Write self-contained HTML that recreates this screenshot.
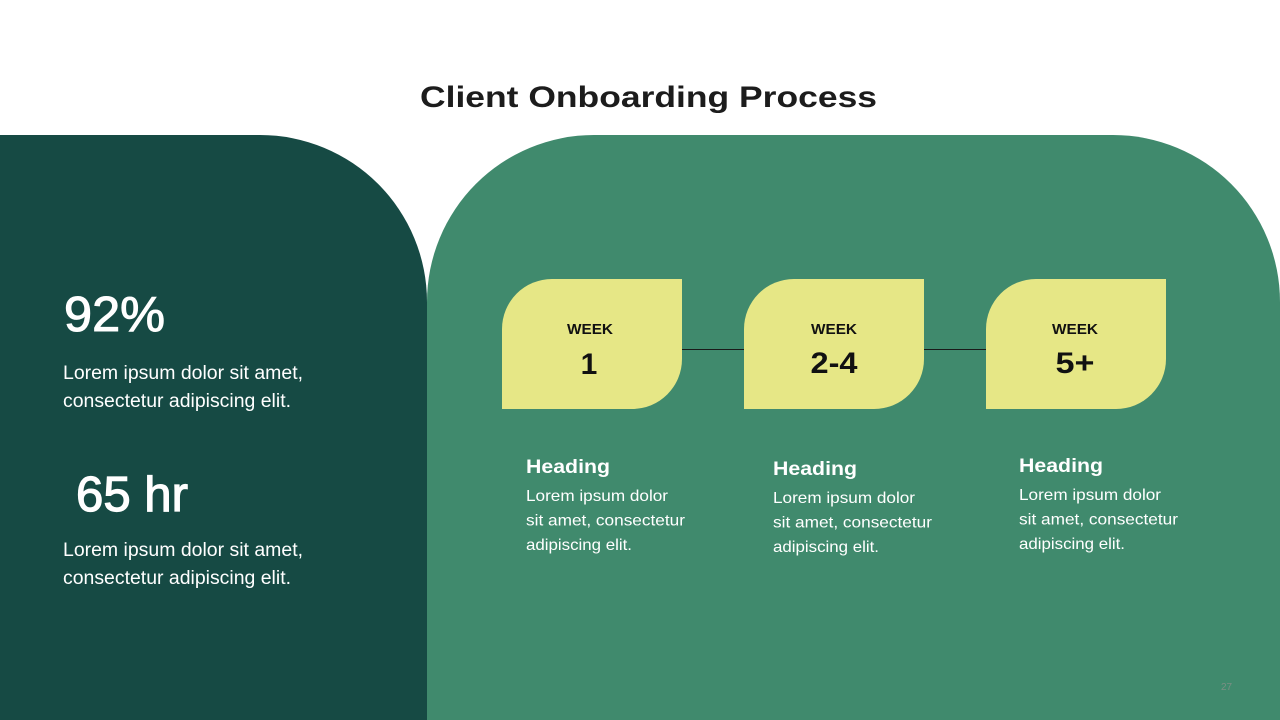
<!DOCTYPE html>
<html>
<head>
<meta charset="utf-8">
<style>
html,body{margin:0;padding:0;background:#fff;}
body{width:1280px;height:720px;overflow:hidden;}
svg{display:block;}
</style>
</head>
<body>
<svg width="1280" height="720" viewBox="0 0 1280 720" xmlns="http://www.w3.org/2000/svg">
  <rect x="0" y="0" width="1280" height="720" fill="#ffffff"/>
  <!-- Title -->
  <text x="420" y="107" font-family="Liberation Sans, sans-serif" font-weight="bold" font-size="30" fill="#1c1c1c" textLength="457" lengthAdjust="spacingAndGlyphs">Client Onboarding Process</text>

  <!-- Dark left panel -->
  <path d="M0 135 H260 A167 167 0 0 1 427 302 V720 H0 Z" fill="#164a44"/>
  <!-- Green right panel -->
  <path d="M427 302 A167 167 0 0 1 594 135 H1113 A167 167 0 0 1 1280 302 V720 H427 Z" fill="#408a6d"/>

  <!-- Left stats -->
  <g font-family="Liberation Sans, sans-serif" fill="#ffffff">
    <text x="64" y="331" font-size="49" stroke="#ffffff" stroke-width="1" textLength="101" lengthAdjust="spacingAndGlyphs">92%</text>
    <text x="63" y="379" font-size="19" textLength="240" lengthAdjust="spacingAndGlyphs">Lorem ipsum dolor sit amet,</text>
    <text x="63" y="407" font-size="19" textLength="228" lengthAdjust="spacingAndGlyphs">consectetur adipiscing elit.</text>
    <text x="76" y="511" font-size="49" stroke="#ffffff" stroke-width="1.2" textLength="112" lengthAdjust="spacingAndGlyphs">65 hr</text>
    <text x="63" y="556" font-size="19" textLength="240" lengthAdjust="spacingAndGlyphs">Lorem ipsum dolor sit amet,</text>
    <text x="63" y="584" font-size="19" textLength="228" lengthAdjust="spacingAndGlyphs">consectetur adipiscing elit.</text>
  </g>

  <!-- Connectors -->
  <line x1="682" y1="349.5" x2="744" y2="349.5" stroke="#1a1a1a" stroke-width="1"/>
  <line x1="924" y1="349.5" x2="986" y2="349.5" stroke="#1a1a1a" stroke-width="1"/>

  <!-- Yellow boxes -->
  <path d="M502 329 A50 50 0 0 1 552 279 H682 V359 A50 50 0 0 1 632 409 H502 Z" fill="#e6e786"/>
  <path d="M744 329 A50 50 0 0 1 794 279 H924 V359 A50 50 0 0 1 874 409 H744 Z" fill="#e6e786"/>
  <path d="M986 329 A50 50 0 0 1 1036 279 H1166 V359 A50 50 0 0 1 1116 409 H986 Z" fill="#e6e786"/>

  <g font-family="Liberation Sans, sans-serif" fill="#111111" font-weight="bold" text-anchor="middle">
    <text x="590" y="334" font-size="15" textLength="46" lengthAdjust="spacingAndGlyphs">WEEK</text>
    <text x="589" y="374" font-size="30">1</text>
    <text x="834" y="334" font-size="15" textLength="46" lengthAdjust="spacingAndGlyphs">WEEK</text>
    <text x="834" y="373" font-size="30" textLength="47" lengthAdjust="spacingAndGlyphs">2-4</text>
    <text x="1075" y="334" font-size="15" textLength="46" lengthAdjust="spacingAndGlyphs">WEEK</text>
    <text x="1075" y="373" font-size="30" textLength="39" lengthAdjust="spacingAndGlyphs">5+</text>
  </g>

  <!-- Columns -->
  <g font-family="Liberation Sans, sans-serif" fill="#ffffff">
    <text x="526" y="473" font-size="19" font-weight="bold" textLength="84" lengthAdjust="spacingAndGlyphs">Heading</text>
    <text x="526" y="501" font-size="16" textLength="142" lengthAdjust="spacingAndGlyphs">Lorem ipsum dolor</text>
    <text x="526" y="525.5" font-size="16" textLength="159" lengthAdjust="spacingAndGlyphs">sit amet, consectetur</text>
    <text x="526" y="550" font-size="16" textLength="106" lengthAdjust="spacingAndGlyphs">adipiscing elit.</text>

    <text x="773" y="475" font-size="19" font-weight="bold" textLength="84" lengthAdjust="spacingAndGlyphs">Heading</text>
    <text x="773" y="503" font-size="16" textLength="142" lengthAdjust="spacingAndGlyphs">Lorem ipsum dolor</text>
    <text x="773" y="527.5" font-size="16" textLength="159" lengthAdjust="spacingAndGlyphs">sit amet, consectetur</text>
    <text x="773" y="552" font-size="16" textLength="106" lengthAdjust="spacingAndGlyphs">adipiscing elit.</text>

    <text x="1019" y="472" font-size="19" font-weight="bold" textLength="84" lengthAdjust="spacingAndGlyphs">Heading</text>
    <text x="1019" y="500" font-size="16" textLength="142" lengthAdjust="spacingAndGlyphs">Lorem ipsum dolor</text>
    <text x="1019" y="524.5" font-size="16" textLength="159" lengthAdjust="spacingAndGlyphs">sit amet, consectetur</text>
    <text x="1019" y="549" font-size="16" textLength="106" lengthAdjust="spacingAndGlyphs">adipiscing elit.</text>
  </g>

  <!-- Page number -->
  <text x="1221" y="690" font-family="Liberation Sans, sans-serif" font-size="10" fill="#7a8f84">27</text>
</svg>
</body>
</html>
